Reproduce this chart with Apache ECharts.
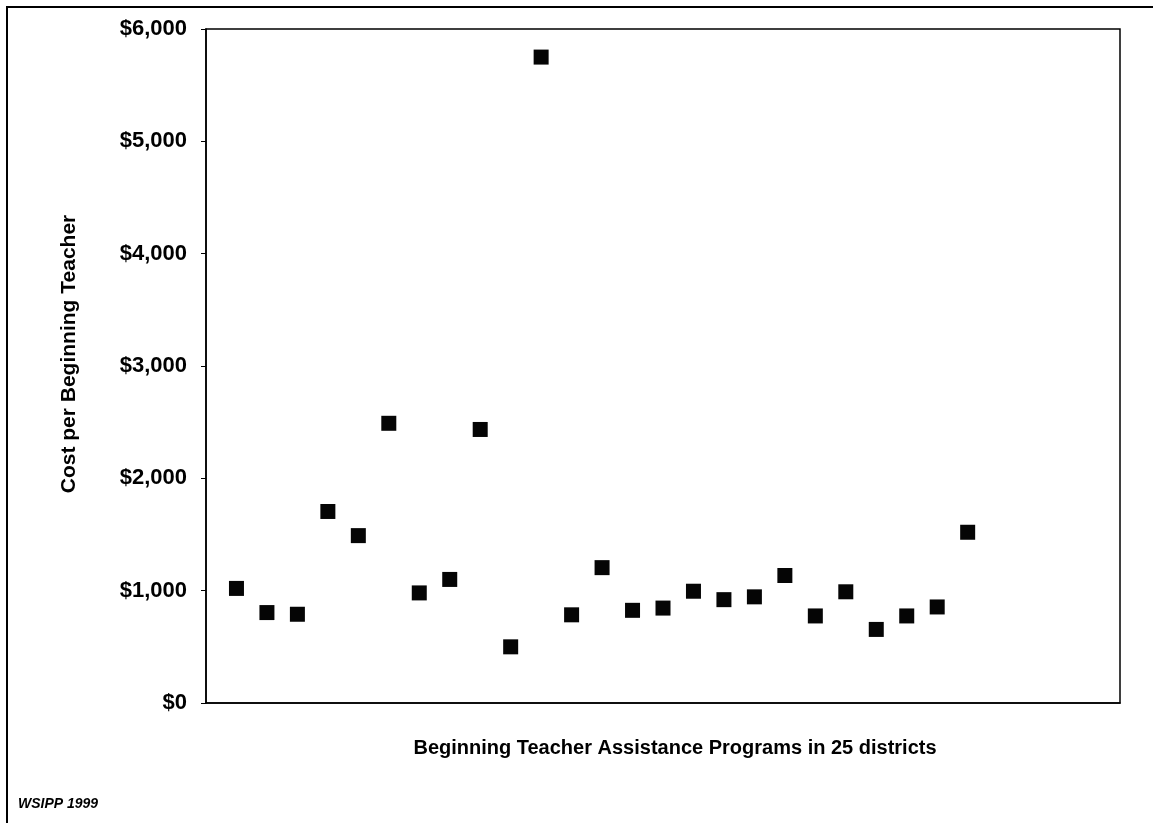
<!DOCTYPE html>
<html>
<head>
<meta charset="utf-8">
<script src="https://cdn.jsdelivr.net/npm/echarts@6/dist/echarts.min.js"></script>
<style>
html,body{margin:0;padding:0;background:#fff;}
#chart{width:1153px;height:823px;}
</style>
</head>
<body>
<div id="chart"></div>
<script>
// District program number (1..25) and cost per beginning teacher (USD)
const districts = [1,2,3,4,5,6,7,8,9,10,11,12,13,14,15,16,17,18,19,20,21,22,23,24,25];
const costs = [1020,805,790,1705,1490,2490,980,1100,2435,500,5750,785,1205,825,845,995,920,945,1135,775,990,655,775,855,1520];
const yTickValues = [0,1000,2000,3000,4000,5000,6000];
const yTickLabels = ['$0','$1,000','$2,000','$3,000','$4,000','$5,000','$6,000'];
const xTitle = 'Beginning Teacher Assistance Programs in 25 districts';
const yTitle = 'Cost per Beginning Teacher';
const sourceNote = 'WSIPP 1999';

const chart = echarts.init(document.getElementById('chart'), null, {renderer:'canvas'});
const font = '"Liberation Sans", Arial, Helvetica, sans-serif';
chart.setOption({
  animation:false,
  backgroundColor:'#fff',
  grid:{left:206,top:29,right:33,bottom:120,show:true,borderColor:'#000',borderWidth:1.5,backgroundColor:'transparent'},
  xAxis:{
    type:'value',min:0,max:30,interval:5,
    axisLine:{show:true,lineStyle:{color:'#000',width:1.5}},
    axisTick:{show:false},axisLabel:{show:false},splitLine:{show:false},
    name:xTitle,nameLocation:'middle',nameGap:35,
    nameTextStyle:{fontFamily:font,fontWeight:'bold',fontSize:20,color:'#000',padding:[0,0,0,24]}
  },
  yAxis:{
    type:'value',min:0,max:6000,interval:1000,
    axisLine:{show:true,lineStyle:{color:'#000',width:1.5}},
    axisTick:{show:true,length:5,inside:false,lineStyle:{color:'#000',width:1}},
    splitLine:{show:false},
    axisLabel:{
      margin:19,fontFamily:font,fontWeight:'bold',fontSize:22,color:'#000',
      formatter:function(v){const i=yTickValues.indexOf(v);return i>=0?yTickLabels[i]:'';}
    }
  },
  series:[{
    type:'scatter',
    data:districts.map((d,i)=>[d,costs[i]]),
    symbol:'rect',symbolSize:15,
    itemStyle:{color:'#050505',opacity:1}
  }],
  graphic:[
    {type:'rect',shape:{x:7,y:7,width:1170,height:840},style:{fill:'none',stroke:'#000',lineWidth:2},silent:true},
    {type:'text',x:69,y:354,rotation:Math.PI/2,style:{text:yTitle,font:'bold 21px '+font,fill:'#000',textAlign:'center',textVerticalAlign:'middle'},silent:true},
    {type:'text',x:18,y:804,style:{text:sourceNote,font:'italic bold 14px '+font,fill:'#000',textVerticalAlign:'middle'},silent:true}
  ]
});
</script>
</body>
</html>
